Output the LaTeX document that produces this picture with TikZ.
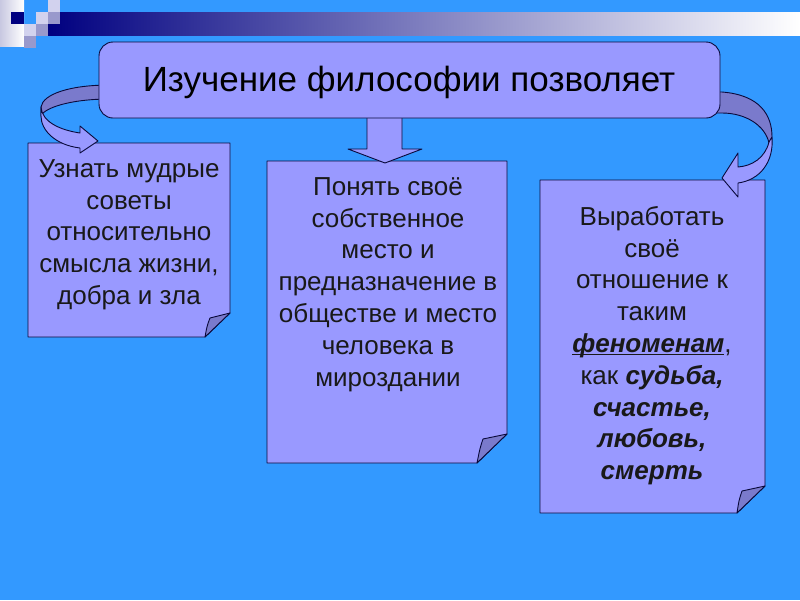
\documentclass[tikz,border=0pt]{standalone}
\usepackage{fontspec}
\setmainfont{Liberation Sans}
\definecolor{bgblue}{RGB}{51,153,255}
\definecolor{boxfill}{RGB}{153,153,255}
\definecolor{flapfill}{RGB}{122,122,204}
\definecolor{edge}{RGB}{10,10,60}
\definecolor{navy}{RGB}{0,0,128}
\definecolor{lightsq}{RGB}{210,210,238}
\definecolor{midsq}{RGB}{153,153,204}
\definecolor{stripl}{RGB}{200,200,225}
\newcommand{\thickul}[1]{\setbox0\hbox{#1}\rlap{\rule[-3pt]{\wd0}{1.6pt}}\box0}
\begin{document}
\begin{tikzpicture}[x=1pt,y=-1pt,
  box/.style={fill=boxfill, draw=edge, line width=0.9pt, line join=round},
  flap/.style={fill=flapfill, draw=edge, line width=0.9pt, line join=round},
  ribbonback/.style={fill=flapfill, draw=edge, line width=0.9pt, line join=round},
  ribbonfront/.style={fill=boxfill, draw=edge, line width=0.9pt, line join=round},
  bodytxt/.style={inner sep=0pt, align=center, text=black!90, font=\fontsize{26}{31.8}\selectfont},
  titletxt/.style={inner sep=0pt, text=black, font=\fontsize{35}{40}\selectfont}]
\useasboundingbox (0,0) rectangle (800,600);
\fill[bgblue] (0,0) rectangle (800,600);
% top decoration
\shade[left color=stripl, right color=white] (0,0) rectangle (24,46);
\shade[left color=navy, right color=white] (48,12) rectangle (800,35);
\fill[navy] (11,12) rectangle (24,24);
\fill[lightsq] (48,0) rectangle (60,12);
\fill[lightsq] (36,12) rectangle (48,24);
\fill[midsq] (48,12) rectangle (60,24);
\fill[lightsq] (24,24) rectangle (36,36);
\fill[midsq] (36,24) rectangle (48,36);
\fill[midsq] (24,36) rectangle (36,48);
% lower boxes
\draw[box] (28,143) -- (230,143) -- (230,313) -- (205,337) -- (28,337) -- cycle;
\draw[flap] (230,313) -- (210,318) .. controls (207,326) .. (205,337) -- cycle;
\draw[box] (267,161) -- (507,161) -- (507,434) -- (477,463) -- (267,463) -- cycle;
\draw[flap] (507,434) -- (483,439) .. controls (480,448) .. (477,463) -- cycle;
\draw[box] (540,180) -- (765,180) -- (765,486) -- (737,513) -- (540,513) -- cycle;
\draw[flap] (765,486) -- (742,491) .. controls (739,500) .. (737,513) -- cycle;
% left ribbon arrow
\draw[ribbonback] (110,85) .. controls (70,85) and (43,94) .. (41,107) -- (41,116)
  .. controls (44,108) and (70,99) .. (110,99) -- cycle;
\draw[ribbonfront] (41,107) .. controls (42,122) and (60,130) .. (80,133) -- (80,126)
  -- (98,141) -- (80,153) -- (80,148) .. controls (55,145) and (41,130) .. (41,116) -- cycle;
% right ribbon arrow
\draw[ribbonback] (710,92) -- (722,92) .. controls (760,95) and (772,115) .. (772,137)
  -- (769,143) .. controls (765,125) and (745,113) .. (722,113) -- (710,113) -- cycle;
\draw[ribbonfront] (769,142) .. controls (765,158) and (752,166) .. (738,167) -- (738,153)
  -- (722,178) -- (738,197) -- (738,183) .. controls (760,180) and (774,162) .. (772,137) -- cycle;
% down arrow
\draw[ribbonfront] (367,110) -- (367,149) -- (348,149) -- (385,163) -- (422,149)
  -- (402,149) -- (402,110) -- cycle;
% title box
\draw[box, rounded corners=14pt] (99,42) rectangle (720,118);
\node[titletxt, anchor=base] (title) at (409,91) {Изучение философии позволяет};
% texts
\node[bodytxt, anchor=north] (left) at (129,151) {\rule{0pt}{26pt}Узнать мудрые\\советы\\относительно\\смысла жизни,\\добра и зла};
\node[bodytxt, anchor=north] (mid) at (388,169) {\rule{0pt}{26pt}Понять своё\\собственное\\место и\\предназначение в\\обществе и место\\человека в\\мироздании};
\node[bodytxt, anchor=north] (right) at (652,199) {\rule{0pt}{26pt}Выработать\\своё\\отношение к\\таким\\\thickul{\textbf{\textit{феноменам}}},\\как \textbf{\textit{судьба,}}\\\textbf{\textit{счастье,}}\\\textbf{\textit{любовь,}}\\\textbf{\textit{смерть}}};
\end{tikzpicture}
\end{document}
